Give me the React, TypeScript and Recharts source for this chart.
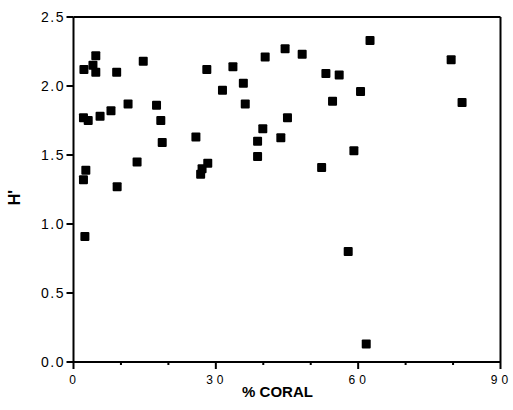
import { ScatterChart, Scatter, XAxis, YAxis, ReferenceLine, Label } from "recharts"

// % live coral cover at each site
const coralPct = [
  2.2, 4.1, 4.7, 4.7, 9.1, 14.7, 28.1, 33.6, 31.4, 35.8, 36.2, 11.5, 7.9, 5.6,
  2.1, 3.1, 17.5, 18.4, 18.7, 25.8, 13.4, 2.6, 2.1, 9.2, 28.3, 27.1, 26.8, 2.4,
  40.4, 44.6, 48.2, 62.5, 79.6, 53.2, 56.0, 60.5, 54.6, 81.9, 45.1, 39.9, 43.7,
  38.8, 38.8, 59.1, 52.3, 57.9, 61.7,
]

// Shannon diversity H'
const diversity = [
  2.12, 2.15, 2.22, 2.1, 2.1, 2.18, 2.12, 2.14, 1.97, 2.02, 1.87, 1.87, 1.82, 1.78,
  1.77, 1.75, 1.86, 1.75, 1.59, 1.63, 1.45, 1.39, 1.32, 1.27, 1.44, 1.4, 1.36, 0.91,
  2.21, 2.27, 2.23, 2.33, 2.19, 2.09, 2.08, 1.96, 1.89, 1.88, 1.77, 1.69, 1.625,
  1.6, 1.49, 1.53, 1.41, 0.8, 0.13,
]

const xTicks = [0, 10, 20, 30, 40, 50, 60, 70, 80, 90]
const xLabelled = [0, 30, 60, 90]
const yTicks = [0, 0.5, 1.0, 1.5, 2.0, 2.5]

const data = coralPct.map((x, i) => ({ x, y: diversity[i] }))

const FONT = '"Liberation Sans", Arial, Helvetica, sans-serif'

// spaced-out digits like the original typesetting, without trailing space
function spaced(label: string, gap: number) {
  return label.split("").map((ch, i) => (
    <tspan key={i} dx={i === 0 ? 0 : gap}>
      {ch}
    </tspan>
  ))
}

function XTick(props: any) {
  const { x, y, payload } = props
  const major = xLabelled.includes(payload.value)
  return (
    <g>
      <line x1={x} x2={x} y1={y} y2={y + (major ? 7 : 3)} stroke="#000" strokeWidth={2} />
      {major && (
        <text x={x - 1} y={y + 22} textAnchor="middle" fontSize={12} fontFamily={FONT} fill="#000">
          {spaced(String(payload.value), 4)}
        </text>
      )}
    </g>
  )
}

function YTick(props: any) {
  const { x, y, payload } = props
  return (
    <g>
      <line x1={x - 7} x2={x} y1={y} y2={y} stroke="#000" strokeWidth={2} />
      <text x={x - 10} y={y + 5} textAnchor="end" fontSize={14} fontFamily={FONT} fill="#000">
        {spaced(payload.value.toFixed(1), 1.5)}
      </text>
    </g>
  )
}

function Square(props: any) {
  const { cx, cy } = props
  return <rect x={cx - 4.5} y={cy - 4.5} width={9} height={9} rx={1} fill="#000" />
}

export default function App() {
  return (
    <div style={{ position: "absolute", left: 0, top: 0, width: 513, height: 410, background: "#fff" }}>
      <ScatterChart width={513} height={410} margin={{ top: 17, right: 12.5, bottom: 0, left: 0 }}>
        <XAxis
          type="number"
          dataKey="x"
          domain={[0, 90]}
          ticks={xTicks}
          interval={0}
          height={48}
          tickSize={0}
          tickMargin={0}
          tickLine={false}
          tick={<XTick />}
          axisLine={{ stroke: "#000", strokeWidth: 2 }}
        >
          <Label
            content={({ viewBox }: any) => (
              <text
                x={viewBox.x + viewBox.width / 2 - 9.5}
                y={viewBox.y + 35}
                textAnchor="middle"
                fontSize={15}
                fontWeight="bold"
                fontFamily={FONT}
                fill="#000"
              >
                % CORAL
              </text>
            )}
          />
        </XAxis>
        <YAxis
          type="number"
          dataKey="y"
          domain={[0, 2.5]}
          ticks={yTicks}
          interval={0}
          width={73.5}
          tickSize={0}
          tickMargin={0}
          tickLine={false}
          tick={<YTick />}
          axisLine={{ stroke: "#000", strokeWidth: 2 }}
        >
          <Label
            content={({ viewBox }: any) => {
              const lx = viewBox.x + 20
              const ly = viewBox.y + viewBox.height / 2 + 8
              return (
                <text
                  x={lx}
                  y={ly}
                  textAnchor="middle"
                  fontSize={16}
                  fontWeight="bold"
                  fontFamily={FONT}
                  fill="#000"
                  transform={`rotate(-90, ${lx}, ${ly})`}
                >
                  H'
                </text>
              )
            }}
          />
        </YAxis>
        <ReferenceLine y={2.5} stroke="#000" strokeWidth={2} />
        <ReferenceLine x={90} stroke="#000" strokeWidth={2} />
        <Scatter data={data} shape={<Square />} isAnimationActive={false} />
      </ScatterChart>
    </div>
  )
}
